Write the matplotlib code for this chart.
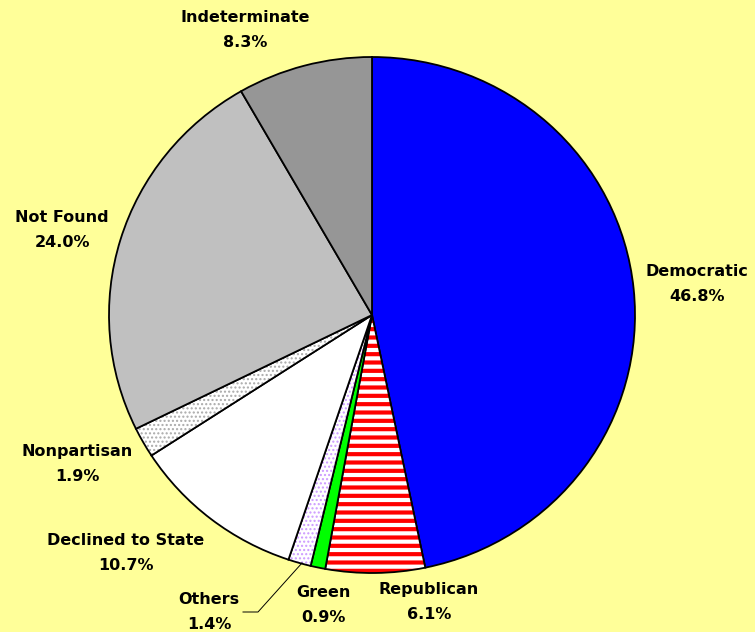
import matplotlib
matplotlib.use("Agg")
import matplotlib.pyplot as plt

categories = ["Democratic", "Republican", "Green", "Others", "Declined to State",
              "Nonpartisan", "Not Found", "Indeterminate"]
values = [46.8, 6.1, 0.9, 1.4, 10.7, 1.9, 24.0, 8.3]
labels = [f"{c}\n{v:.1f}%" for c, v in zip(categories, values)]

W, H = 755, 632
BG = "#FFFF99"
K = 258 / 263  # vertical squash of the pie (slightly elliptical in the reference)


def yd(py):
    """pixel row (from top) -> data y"""
    return (H - py) / K


fig = plt.figure(figsize=(W / 100, H / 100), dpi=100, facecolor=BG)
ax = fig.add_axes([0, 0, 1, 1])
ax.set_facecolor(BG)

cx, cy, r = 372, yd(315), 263
faces = ["#0000FF", "#FFFFFF", "#00FF00", "#FFFFFF", "#FFFFFF", "#FFFFFF", "#C0C0C0", "#969696"]
hatches = [None, "--", None, "....", None, "....", None, None]
hatch_colors = [None, "#FF0000", None, "#CC99FF", None, "#AAAAAA", None, None]

wedges, _ = ax.pie(values, center=(cx, cy), radius=r, startangle=90, counterclock=False,
                   colors=faces, wedgeprops=dict(edgecolor="black", linewidth=1.3),
                   frame=True)
ax.set_aspect("auto")
ax.set_xlim(0, W)
ax.set_ylim(0, H / K)
ax.axis("off")
for w, h, hc in zip(wedges, hatches, hatch_colors):
    if h:
        w.set_hatch(h)
        w.set_edgecolor("black")
        try:
            w._hatch_color = matplotlib.colors.to_rgba(hc)
        except Exception:
            pass
        try:
            w.set_hatch_linewidth(3.0 if h == "--" else 1.0)
        except Exception:
            pass

label_pos = [(697, 284), (429, 602), (323, 605), (209, 612), (126, 553),
             (77, 464), (62, 230), (245, 30)]
for lab, (x, y) in zip(labels, label_pos):
    ax.text(x, yd(y), lab, ha="center", va="center", fontsize=11.5, fontweight="bold",
            family="DejaVu Sans", linespacing=1.85, color="black")

# leader line for Others
ax.plot([243, 258, 302], [yd(612), yd(612), yd(563)], color="black", lw=0.7)

fig.savefig("out.png", dpi=100, facecolor=BG)
